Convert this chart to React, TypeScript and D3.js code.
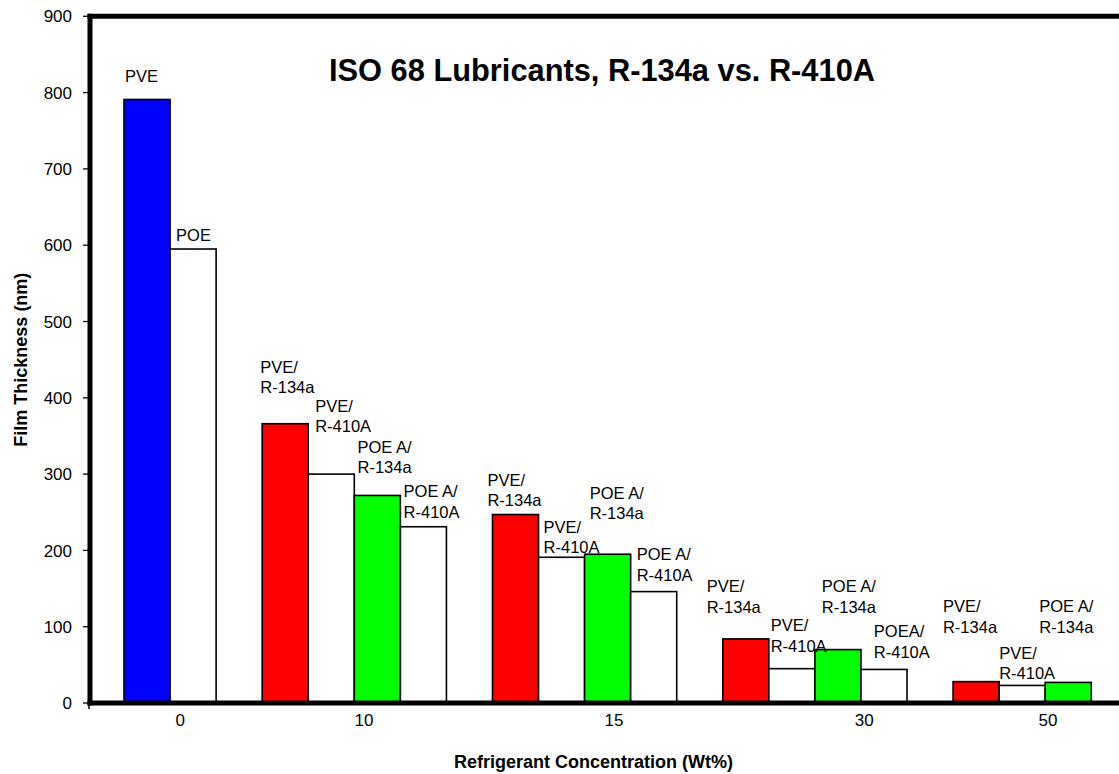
import React from 'react';
import * as d3 from 'd3';

// ---- data ----
const categories = ['0', '10', '15', '30', '50'];
const tickSlots = [1.22, 5.21, 10.64, 16.07, 20.06];

const barSlots = [0, 1, 3, 4, 5, 6, 8, 9, 10, 11, 13, 14, 15, 16, 18, 19, 20];
const barSeries = [
  'PVE', 'POE',
  'PVE/R-134a', 'PVE/R-410A', 'POE A/R-134a', 'POE A/R-410A',
  'PVE/R-134a', 'PVE/R-410A', 'POE A/R-134a', 'POE A/R-410A',
  'PVE/R-134a', 'PVE/R-410A', 'POE A/R-134a', 'POE A/R-410A',
  'PVE/R-134a', 'PVE/R-410A', 'POE A/R-134a',
];
const barValues = [791, 595, 366, 300, 272, 231, 247, 191, 195, 146, 84, 45, 70, 44, 28, 23, 27];

const barLabels = [
  ['PVE'], ['POE'],
  ['PVE/', 'R-134a'], ['PVE/', 'R-410A'], ['POE A/', 'R-134a'], ['POE A/', 'R-410A'],
  ['PVE/', 'R-134a'], ['PVE/', 'R-410A'], ['POE A/', 'R-134a'], ['POE A/', 'R-410A'],
  ['PVE/', 'R-134a'], ['PVE/', 'R-410A'], ['POE A/', 'R-134a'], ['POEA/', 'R-410A'],
  ['PVE/', 'R-134a'], ['PVE/', 'R-410A'], ['POE A/', 'R-134a'],
];
// annotation anchor: value (nm) of last line baseline, offset in slot units
const labelValues = [814, 606, 406, 355, 301, 243, 258, 196, 241, 160, 118, 67, 118, 59, 92, 31, 92];
const labelSlotOffsets = [0.02, 0.13, -0.04, 0.15, 0.07, 0.07, -0.11, 0.11, 0.11, 0.13, -0.35, 0.04, 0.15, 0.28, -0.22, 0.0, -0.13];

const seriesColors: Record<string, string> = {
  'PVE': '#0000FF',
  'POE': '#FFFFFF',
  'PVE/R-134a': '#FF0000',
  'PVE/R-410A': '#FFFFFF',
  'POE A/R-134a': '#00FF00',
  'POE A/R-410A': '#FFFFFF',
};

const yTicks = [0, 100, 200, 300, 400, 500, 600, 700, 800, 900];

const title = 'ISO 68 Lubricants, R-134a vs. R-410A';
const xTitle = 'Refrigerant Concentration (Wt%)';
const yTitle = 'Film Thickness (nm)';

// ---- layout ----
const W = 1119;
const H = 774;
const FONT = '"Liberation Sans", Arial, Helvetica, sans-serif';
const plotLeft = 90;
const plotTop = 16.3;
const plotBottom = 703;

export default function App() {
  const y = d3.scaleLinear().domain([0, 900]).range([plotBottom, plotTop]);
  const x = d3.scaleLinear().domain([0, 21]).range([124, 124 + 46.06 * 21]);
  const bw = x(1) - x(0);

  return (
    <svg
      width={W}
      height={H}
      style={{ position: 'absolute', left: 0, top: 0, background: '#fff' }}
      fontFamily={FONT}
    >
      <rect x={0} y={0} width={W} height={H} fill="#fff" />

      {/* bars */}
      {barValues.map((v, i) => (
        <rect
          key={'b' + i}
          x={x(barSlots[i])}
          y={y(v)}
          width={bw}
          height={y(0) - y(v)}
          fill={seriesColors[barSeries[i]]}
          stroke="#000"
          strokeWidth={1.6}
        />
      ))}

      {/* bar annotations */}
      {barLabels.map((lines, i) => {
        const lx = x(barSlots[i] + labelSlotOffsets[i]);
        const ly = y(labelValues[i]);
        const n = lines.length;
        return (
          <text key={'l' + i} x={lx} y={ly} fontSize={16.5} fill="#000">
            {lines.map((t, j) => (
              <tspan key={j} x={lx} y={ly - (n - 1 - j) * 20.5}>
                {t}
              </tspan>
            ))}
          </text>
        );
      })}

      {/* frame / axes */}
      <line x1={plotLeft - 2.5} x2={W} y1={plotTop} y2={plotTop} stroke="#000" strokeWidth={5} />
      <line x1={plotLeft} x2={plotLeft} y1={plotTop - 2.5} y2={plotBottom + 2.5} stroke="#000" strokeWidth={5} />
      <line x1={plotLeft - 2.5} x2={W} y1={plotBottom} y2={plotBottom} stroke="#000" strokeWidth={5} />
      <line x1={plotLeft - 1} x2={plotLeft - 1} y1={plotBottom} y2={plotBottom + 6} stroke="#000" strokeWidth={1.5} />

      {/* y ticks */}
      {yTicks.map((t) => (
        <g key={'yt' + t}>
          <line x1={plotLeft - 7} x2={plotLeft - 2} y1={y(t)} y2={y(t)} stroke="#000" strokeWidth={1.3} />
          <text x={plotLeft - 18} y={y(t)} dy="0.36em" textAnchor="end" fontSize={17} fill="#000">
            {t}
          </text>
        </g>
      ))}

      {/* x tick labels */}
      {categories.map((c, i) => (
        <text key={'xt' + c} x={x(tickSlots[i])} y={726} textAnchor="middle" fontSize={17} fill="#000">
          {c}
        </text>
      ))}

      {/* titles */}
      <text x={602} y={81} textAnchor="middle" fontSize={30.8} fontWeight="bold" fill="#000">
        {title}
      </text>
      <text x={593.5} y={768} textAnchor="middle" fontSize={18} fontWeight="bold" fill="#000">
        {xTitle}
      </text>
      <text
        transform={`translate(27, ${(plotTop + plotBottom) / 2}) rotate(-90)`}
        textAnchor="middle"
        fontSize={18}
        fontWeight="bold"
        fill="#000"
      >
        {yTitle}
      </text>
    </svg>
  );
}
